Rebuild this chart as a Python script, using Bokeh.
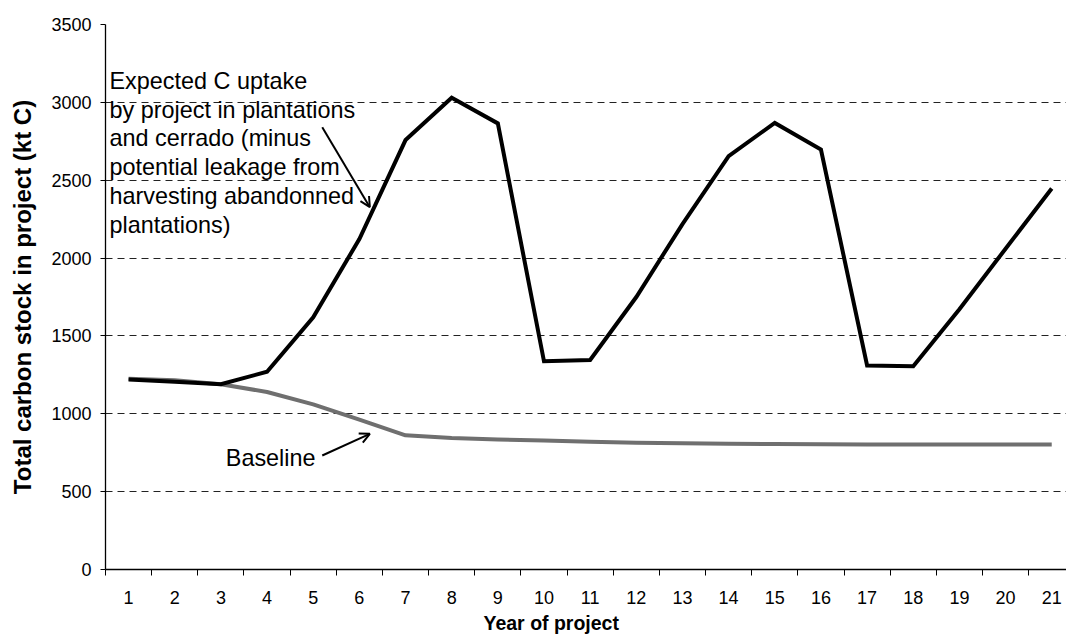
from bokeh.plotting import figure
from bokeh.models import FixedTicker, Range1d, Arrow, OpenHead, Label, Title
from bokeh.embed import file_html
from bokeh.resources import INLINE

# ---- data ----
years = list(range(1, 22))
project = [1220, 1205, 1190, 1270, 1620, 2122, 2758, 3030, 2865, 1337, 1346,
           1750, 2218, 2655, 2868, 2697, 1310, 1306, 1672, 2060, 2447]
baseline = [1225, 1215, 1190, 1140, 1060, 962, 862, 845, 835, 828, 820,
            814, 810, 808, 806, 805, 803, 802, 802, 802, 802]
y_ticks = [0, 500, 1000, 1500, 2000, 2500, 3000, 3500]
x_label = "Year of project"
y_label = "Total carbon stock in project (kt C)"
project_note = ("Expected C uptake\nby project in plantations\nand cerrado (minus\n"
                "potential leakage from\nharvesting abandonned\nplantations)")
baseline_note = "Baseline"

FONT = "Liberation Sans"

p = figure(frame_width=961, frame_height=545, width=1066, height=644,
           output_backend="svg", toolbar_location=None,
           x_range=Range1d(0.5, 21.32), y_range=Range1d(0, 3500),
           min_border_left=105, min_border_right=0, min_border_top=24,
           min_border_bottom=75)
p.outline_line_color = None
p.background_fill_color = "white"
p.border_fill_color = "white"

# x axis: labels at centers, tick marks at category boundaries
xt = FixedTicker(ticks=years, minor_ticks=[y - 0.5 for y in years] + [21.5])
p.xaxis.ticker = xt
p.xaxis.major_tick_line_color = None
p.xaxis.major_tick_out = 0
p.xaxis.major_tick_in = 0
p.xaxis.minor_tick_out = 6
p.xaxis.minor_tick_in = 0
p.xaxis.minor_tick_line_color = "black"
p.xaxis.minor_tick_line_width = 1
p.xaxis.major_label_standoff = 15

p.yaxis.ticker = FixedTicker(ticks=y_ticks)
p.yaxis.minor_tick_line_color = None
p.yaxis.major_tick_out = 5
p.yaxis.major_tick_in = 0
p.yaxis.major_label_standoff = 9
p.yaxis.axis_label = y_label
p.yaxis.axis_label_standoff = 12
p.yaxis.axis_label_text_font_size = "24px"

for ax in (p.xaxis, p.yaxis):
    ax.axis_line_color = "black"
    ax.axis_line_width = 1.3
    ax.major_tick_line_width = 1
    ax.major_label_text_font = FONT
    ax.major_label_text_font_size = "18px"
    ax.major_label_text_color = "black"
    ax.axis_label_text_font = FONT
    ax.axis_label_text_font_style = "bold"
    ax.axis_label_text_color = "black"

p.xgrid.grid_line_color = None
p.ygrid.ticker = FixedTicker(ticks=y_ticks[1:])
p.ygrid.grid_line_color = "#222222"
p.ygrid.grid_line_width = 1
p.ygrid.grid_line_dash = "7 5"

p.line(years, baseline, line_color="#6f6f6f", line_width=4, line_join="round")
p.line(years, project, line_color="black", line_width=4, line_join="miter")

# x-axis title (the original chart's category area runs past the right edge,
# so the title sits left of the visible frame's centre)
p.add_layout(Title(text=x_label, align="left", offset=378, standoff=6,
                   text_font=FONT, text_font_size="19.5px", text_font_style="bold",
                   text_color="black"), "below")

# annotations
p.add_layout(Label(x=0.587, y=3221, text=project_note, text_font=FONT,
                   text_font_size="23.4px", text_baseline="top", text_align="left",
                   text_line_height=1.105, text_color="black"))
p.add_layout(Arrow(end=OpenHead(size=10, line_width=2, line_color="black"),
                   x_start=5.196, y_start=2840, x_end=6.227, y_end=2327,
                   line_width=2, line_color="black"))
p.add_layout(Label(x=5.05, y=713, text=baseline_note, text_font=FONT,
                   text_font_size="23.4px", text_baseline="middle", text_align="right",
                   text_color="black"))
p.add_layout(Arrow(end=OpenHead(size=10, line_width=2, line_color="black"),
                   x_start=5.196, y_start=732, x_end=6.227, y_end=871,
                   line_width=2, line_color="black"))

open("out.html", "w").write(file_html(p, INLINE))
